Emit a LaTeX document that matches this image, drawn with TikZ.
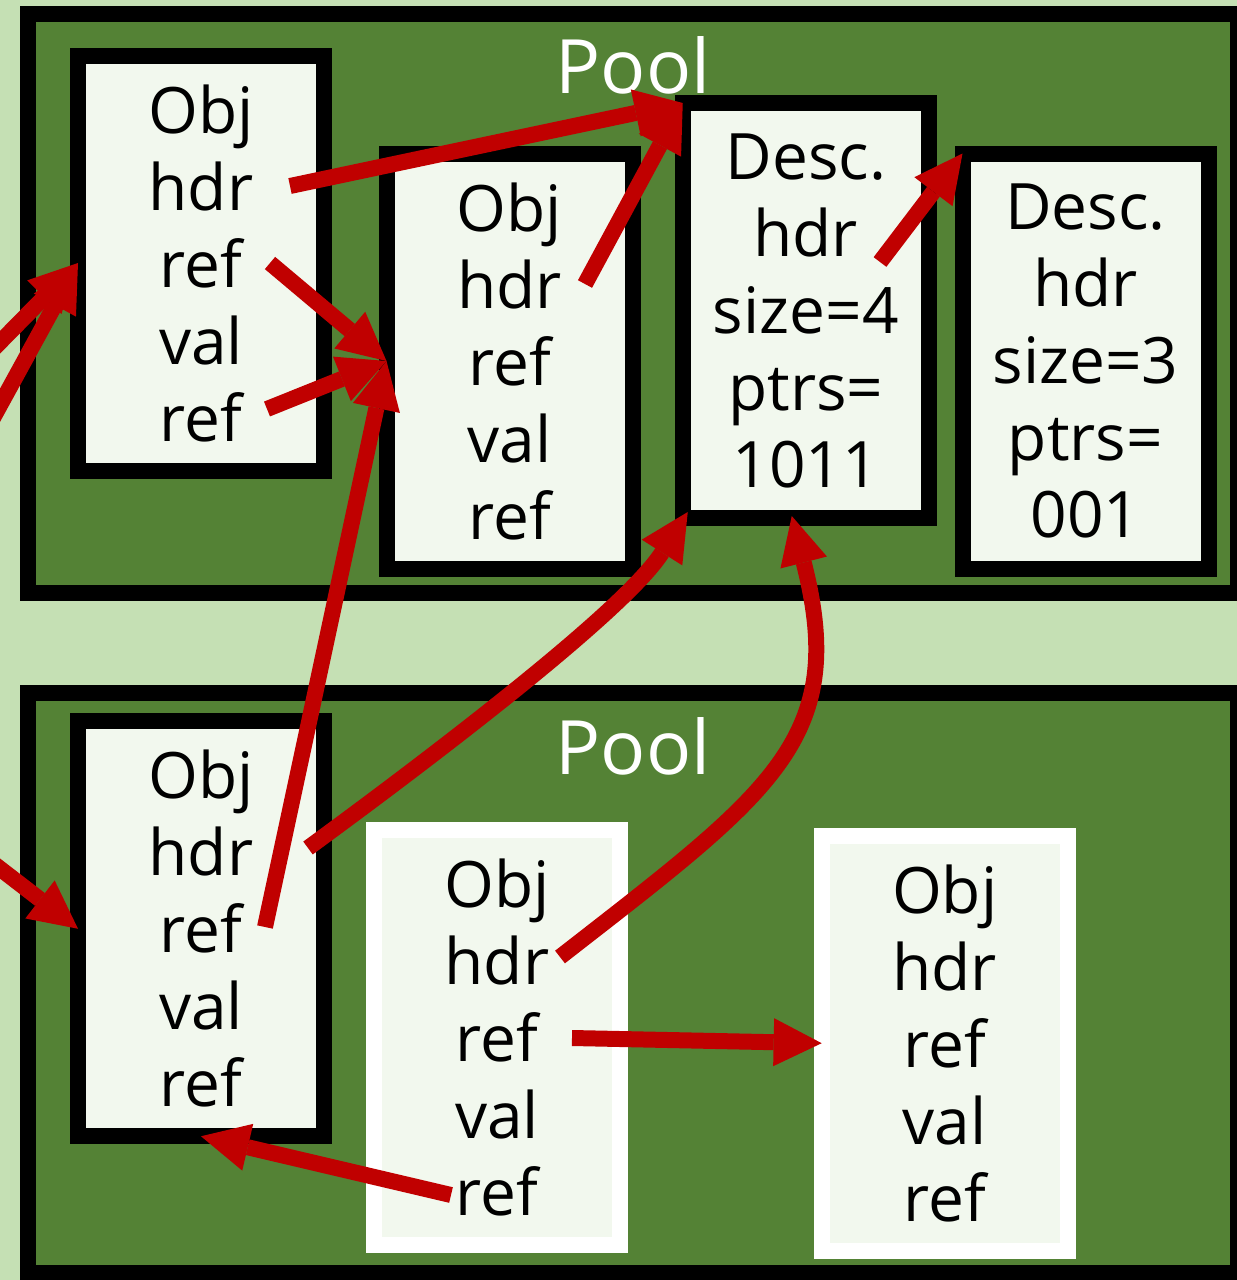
\documentclass[tikz,border=0pt]{standalone}
\usepackage{fontspec}
\setmainfont{Open Sans}
\usetikzlibrary{arrows.meta,calc}
\definecolor{bgc}{HTML}{C5E0B4}
\definecolor{poolc}{HTML}{548235}
\definecolor{cellc}{HTML}{F2F8EE}
\definecolor{ptrc}{HTML}{C00000}

\begin{document}
\begin{tikzpicture}[x=1pt,y=-1pt,
  pool/.style={draw=black, fill=poolc, line width=16pt},
  pooltitle/.style={text=white, font=\fontsize{75}{90}\selectfont, anchor=base, inner sep=0pt},
  cell/.style={rectangle, fill=cellc, line width=16pt, minimum width=246pt,
    minimum height=415pt, inner sep=0pt, outer sep=0pt, align=center,
    font=\fontsize{64}{77}\selectfont},
  live/.style={cell, draw=black},
  freed/.style={cell, draw=white},
  ptr/.style={draw=ptrc, line width=16pt,
    -{Triangle[length=48pt,width=48pt,line width=0pt]}}
]
\useasboundingbox (0,0) rectangle (1237,1280);
\clip (0,0) rectangle (1237,1280);
\fill[bgc] (0,0) rectangle (1237,1280);

% the two pools
\draw[pool] (28,14) rectangle (1238,593);
\draw[pool] (28,693) rectangle (1238,1273);
\node[pooltitle] (t1) at (633,93) {Pool};
\node[pooltitle] (t2) at (633,774) {Pool};

% upper pool
\node[live] (o1) at (201,263) {Obj\\hdr\\ref\\val\\ref};
\node[live] (o2) at (509.5,361) {Obj\\hdr\\ref\\val\\ref};
\node[live] (d1) at (805.75,310.5) {Desc.\\hdr\\size=4\\ptrs=\\1011};
\node[live] (d2) at (1085.5,361) {Desc.\\hdr\\size=3\\ptrs=\\001};

% lower pool
\node[live] (o3) at (201,928.75) {Obj\\hdr\\ref\\val\\ref};
\node[freed] (o4) at (497,1037.2) {Obj\\hdr\\ref\\val\\ref};
\node[freed] (o5) at (944.65,1043.2) {Obj\\hdr\\ref\\val\\ref};

% field anchors
\coordinate (o1hdr) at (290,186);
\coordinate (o1refa) at (270,263);
\coordinate (o1refb) at (267,409);
\coordinate (o2hdr) at (585,284);
\coordinate (d1hdr) at (880,262);
\coordinate (o3hdr) at (308,848);
\coordinate (o3ref) at (265,927);
\coordinate (o4hdr) at (560,957);
\coordinate (o4refa) at (572,1038);
\coordinate (o4refb) at (451,1195);
\coordinate (d1foot) at ($(d1.south west)+(5,-6)$);
\coordinate (d1in) at ($(d1.south)+(-14,-2)$);
% references coming from outside
\coordinate (inA) at (-50,393);
\coordinate (inB) at (-30,460);
\coordinate (inC) at (-50,830);

% pointers
\draw[ptr] (inA) -- (o1.west);
\draw[ptr] (inB) -- (o1.west);
\draw[ptr] (inC) -- (o3.west);
\draw[ptr] (o1hdr) -- (d1.north west);
\draw[ptr] (o2hdr) -- (d1.north west);
\draw[ptr] (d1hdr) -- (d2.north west);
\draw[ptr] (o1refa) -- (o2.west);
\draw[ptr] (o1refb) -- (o2.west);
\draw[ptr] (o3ref) -- (o2.west);
\draw[ptr] (o3hdr) .. controls (405,777) and (623,614) .. (d1foot);
\draw[ptr] (o4hdr) .. controls (773,791) and (849,739) .. (d1in);
\draw[ptr] (o4refa) -- (o5.west);
\draw[ptr] (o4refb) -- (o3.south);
\end{tikzpicture}
\end{document}
